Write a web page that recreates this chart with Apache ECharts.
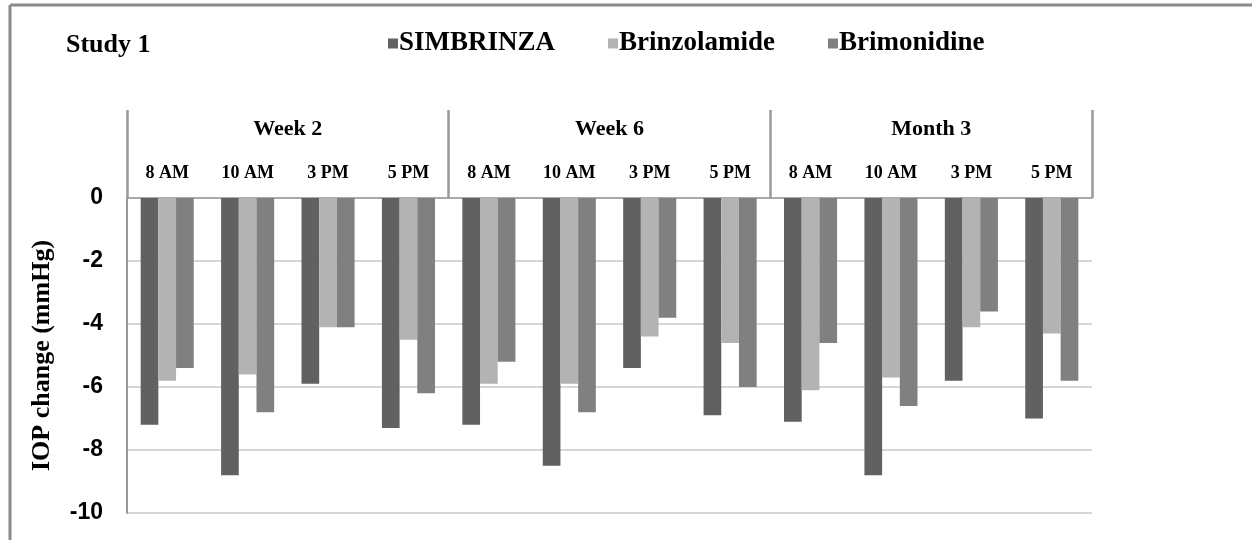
<!DOCTYPE html>
<html>
<head>
<meta charset="utf-8">
<script src="https://cdn.jsdelivr.net/npm/echarts@6/dist/echarts.min.js"></script>
<style>
html,body{margin:0;padding:0;background:#fff;}
#c{width:1252px;height:540px;}
</style>
</head>
<body>
<div id="c"></div>
<script>
// ---- data ----
var groups = ['Week 2', 'Week 6', 'Month 3'];
var times = ['8 AM', '10 AM', '3 PM', '5 PM'];
var seriesNames = ['SIMBRINZA', 'Brinzolamide', 'Brimonidine'];
var simbrinza    = [-7.2, -8.8, -5.9, -7.3,  -7.2, -8.5, -5.4, -6.9,  -7.1, -8.8, -5.8, -7.0];
var brinzolamide = [-5.8, -5.6, -4.1, -4.5,  -5.9, -5.9, -4.4, -4.6,  -6.1, -5.7, -4.1, -4.3];
var brimonidine  = [-5.4, -6.8, -4.1, -6.2,  -5.2, -6.8, -3.8, -6.0,  -4.6, -6.6, -3.6, -5.8];
var yTicks = [0, -2, -4, -6, -8, -10];

// ---- build ----
var categories = [];
groups.forEach(function (g) { times.forEach(function (t) { categories.push(g + '|' + t); }); });

var colors = ['#616161', '#b3b3b3', '#808080'];
var serif = '"Liberation Serif", "Times New Roman", serif';
var sans = '"Liberation Sans", Arial, sans-serif';

var chart = echarts.init(document.getElementById('c'), null, {renderer: 'canvas'});
var legendLefts = [383, 603, 823];
var option = {
  backgroundColor: '#ffffff',
  animation: false,
  title: {
    text: 'Study 1', left: 61, top: 27,
    textStyle: {fontFamily: serif, fontWeight: 'bold', fontSize: 26, color: '#000'}
  },
  legend: seriesNames.map(function (n, i) {
    return {
      data: [n], left: legendLefts[i], top: 25, itemWidth: 10, itemHeight: 10, itemGap: 2,
      icon: 'rect',
      textStyle: {fontFamily: serif, fontWeight: 'bold', fontSize: 27, color: '#000', padding: [0, 0, 0, -4]}
    };
  }),
  grid: {left: 127, right: 160, top: 198, bottom: 27, containLabel: false},
  xAxis: [{
    type: 'category', data: categories, position: 'top',
    axisLine: {show: true, lineStyle: {color: '#9a9a9a', width: 1.5}},
    axisTick: {show: false},
    axisLabel: {
      margin: 16, interval: 0,
      fontFamily: serif, fontWeight: 'bold', fontSize: 18, color: '#000',
      formatter: function (v) { return v.split('|')[1]; }
    }
  }, {
    type: 'category', data: groups, position: 'top',
    axisLine: {show: false},
    axisTick: {show: true, length: 88, lineStyle: {color: '#999', width: 2.5}},
    axisLabel: {margin: 58, fontFamily: serif, fontWeight: 'bold', fontSize: 22, color: '#000'}
  }],
  yAxis: {
    type: 'value', min: -10, max: 0, interval: 2,
    name: 'IOP change (mmHg)', nameLocation: 'middle', nameRotate: 90, nameGap: 72,
    nameTextStyle: {fontFamily: serif, fontWeight: 'bold', fontSize: 26, color: '#000'},
    axisLine: {show: true, lineStyle: {color: '#9a9a9a', width: 2}},
    axisTick: {show: false},
    splitLine: {show: true, lineStyle: {color: '#c8c8c8', width: 1.5}},
    axisLabel: {
      margin: 24, fontFamily: sans, fontWeight: 'bold', fontSize: 23, color: '#000',
      customValues: yTicks
    }
  },
  series: [simbrinza, brinzolamide, brimonidine].map(function (d, i) {
    return {
      name: seriesNames[i], type: 'bar', xAxisIndex: 0, data: d,
      barGap: '0%', barCategoryGap: '34%',
      itemStyle: {color: colors[i]}
    };
  }),
  graphic: [
    {type: 'line', shape: {x1: 10, y1: 5, x2: 1252, y2: 5}, style: {stroke: '#8a8a8a', lineWidth: 3}},
    {type: 'line', shape: {x1: 10, y1: 5, x2: 10, y2: 540}, style: {stroke: '#8a8a8a', lineWidth: 3}}
  ]
};
chart.setOption(option);
</script>
</body>
</html>
